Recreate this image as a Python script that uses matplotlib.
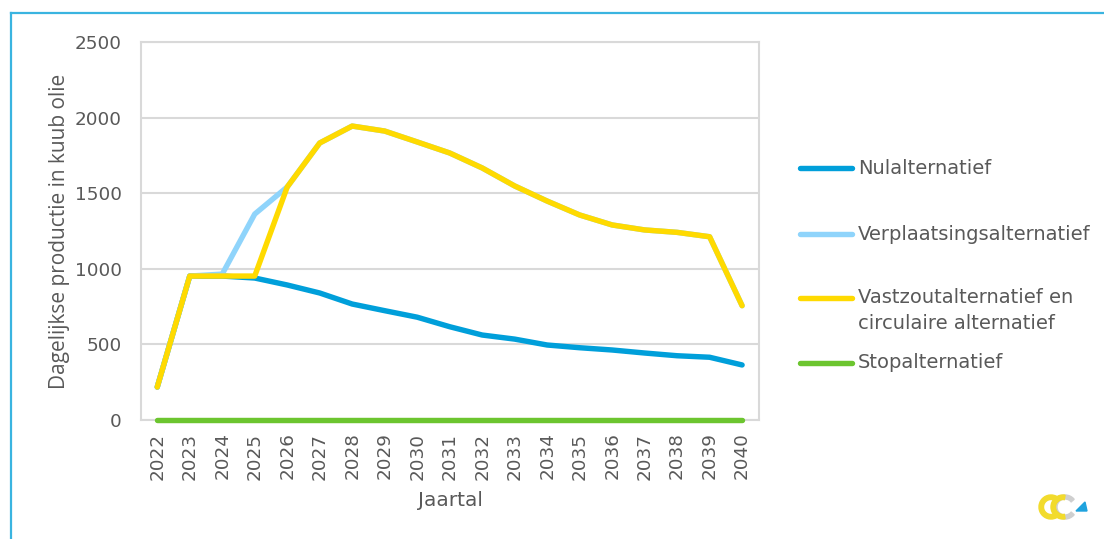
import matplotlib.pyplot as plt
import matplotlib.patches as patches
from matplotlib.lines import Line2D

# ================= DATA =================
years = list(range(2022, 2041))

nul = [218, 952, 952, 939, 893, 840, 767, 723, 680, 617, 562, 535,
       496, 478, 463, 443, 425, 415, 364]
verplaatsing = [218, 952, 965, 1362, 1541, 1832, 1944, 1911, 1839, 1766,
                1667, 1548, 1448, 1356, 1290, 1257, 1241, 1212, 756]
vastzout = [218, 952, 952, 952, 1541, 1832, 1944, 1911, 1839, 1766,
            1667, 1548, 1448, 1356, 1290, 1257, 1241, 1212, 756]
stop = [0] * len(years)

series_names = ["Nulalternatief", "Verplaatsingsalternatief",
                "Vastzoutalternatief en\ncirculaire alternatief",
                "Stopalternatief"]
series_colors = ["#009FDA", "#8FD4FB", "#FFDA00", "#6CC52F"]

y_ticks = [0, 500, 1000, 1500, 2000, 2500]

TEXT = "#595959"
GRID = "#D9D9D9"

# ================= FIGURE =================
W, H = 1104, 539
fig = plt.figure(figsize=(W / 100, H / 100), dpi=100)
ax = fig.add_axes([141 / W, 1 - 420 / H, (759 - 141) / W, (420 - 42) / H])

lw = 3.9
ax.plot(years, stop, color=series_colors[3], lw=lw, solid_capstyle="round",
        zorder=3, clip_on=False)
ax.plot(years, nul, color=series_colors[0], lw=lw, solid_capstyle="round", zorder=4)
ax.plot(years, verplaatsing, color=series_colors[1], lw=lw, solid_capstyle="round", zorder=5)
ax.plot(years, vastzout, color=series_colors[2], lw=lw, solid_capstyle="round", zorder=6)

ax.set_xlim(2021.5, 2040.52)
ax.set_ylim(0, 2500)
ax.set_yticks(y_ticks)
ax.set_xticks(years)
ax.set_xticklabels([str(y) for y in years], rotation=90)
ax.grid(True, axis="y", color=GRID, lw=1.5)
ax.set_axisbelow(True)
for s in ax.spines.values():
    s.set_color(GRID)
    s.set_linewidth(1.5)
ax.tick_params(length=0, colors=TEXT, labelsize=13.2)
ax.tick_params(axis="y", pad=14)
ax.tick_params(axis="x", pad=9)
ax.set_xlabel("Jaartal", color=TEXT, fontsize=14.5, labelpad=8)
ax.set_ylabel("Dagelijkse productie in kuub olie", color=TEXT, fontsize=15,
              labelpad=3, family="Open Sans")

# ================= LEGEND (manual) =================
legend_y = [168, 234, 298, 363]
for name, color, ly in zip(series_names, series_colors, legend_y):
    fy = 1 - ly / H
    fig.add_artist(Line2D([800 / W, 852 / W], [fy, fy], color=color, lw=3.9,
                          solid_capstyle="round", transform=fig.transFigure))
    if "\n" in name:
        fig.text(858 / W, 1 - (298 - 10) / H, name, color=TEXT, fontsize=14,
                 va="top", ha="left", linespacing=1.45)
    else:
        fig.text(858 / W, fy, name, color=TEXT, fontsize=14, va="center", ha="left")

# ================= FRAME =================
frame_col = "#3AB4E0"
fig.add_artist(Line2D([11 / W, 1103 / W], [1 - 13 / H, 1 - 13 / H], color=frame_col,
                      lw=1.6, transform=fig.transFigure))
fig.add_artist(Line2D([11 / W, 11 / W], [0, 1 - 13 / H], color=frame_col,
                      lw=1.6, transform=fig.transFigure))

# ================= LOGO =================
lax = fig.add_axes([1038 / W, 1 - 522 / H, 52 / W, 30 / H])
lax.set_xlim(0, 52)
lax.set_ylim(0, 30)
lax.set_aspect("equal")
lax.axis("off")
lax.add_patch(patches.Wedge((27, 15), 12, 40, 320, width=4, color="#CFCFCF"))
lax.add_patch(patches.Wedge((13, 15), 12, 40, 320, width=4.5, color="#F2DB2C"))
lax.add_patch(patches.Wedge((25, 15), 12, 80, 280, width=4.5, color="#F2DB2C"))
lax.add_patch(patches.Polygon([[38, 11], [49, 11], [47, 20]], color="#1FA3DE"))

fig.savefig("out.png", dpi=100)
